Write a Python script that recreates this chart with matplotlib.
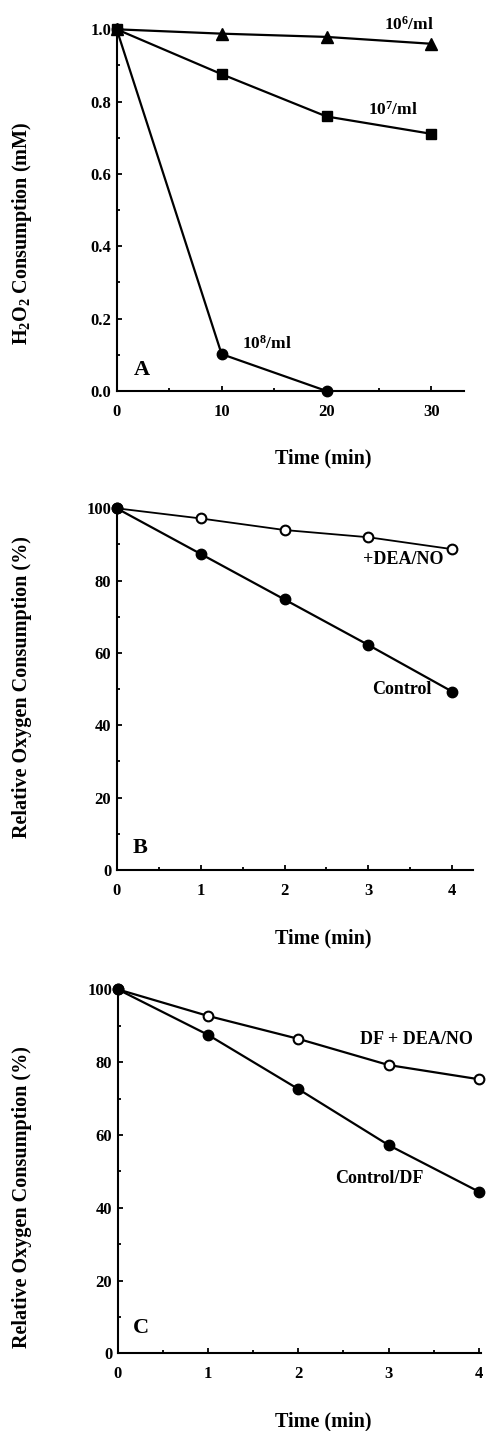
import matplotlib
matplotlib.use('Agg')
import matplotlib.pyplot as plt
from matplotlib.ticker import MultipleLocator, FormatStrFormatter

plt.rcParams['font.family'] = ['Liberation Serif', 'DejaVu Serif']
plt.rcParams['font.weight'] = 'bold'
plt.rcParams['mathtext.fontset'] = 'custom'
plt.rcParams['mathtext.rm'] = 'Liberation Serif:bold'
plt.rcParams['mathtext.it'] = 'Liberation Serif:bold'
plt.rcParams['mathtext.bf'] = 'Liberation Serif:bold'

# ---- data ----
time_a = [0, 10, 20, 30]
a_1e6 = [1.0, 0.988, 0.979, 0.960]
a_1e7 = [1.0, 0.876, 0.759, 0.711]
time_a8 = [0, 10, 20]
a_1e8 = [1.0, 0.102, 0.0]

time_bc = [0, 1, 2, 3, 4]
b_deano = [100, 97.2, 94.0, 92.0, 88.7]
b_control = [100, 87.4, 74.8, 62.2, 49.3]
c_df_deano = [100, 92.7, 86.4, 79.2, 75.3]
c_control_df = [100, 87.5, 72.6, 57.2, 44.4]

W, H = 486, 1431
fig = plt.figure(figsize=(W / 100, H / 100), dpi=100)


def add_ax(left, right, bottom, top):
    return fig.add_axes([left / W, 1 - bottom / H, (right - left) / W, (bottom - top) / H])


def style(ax, xmaj, xmin, ymaj, ymin, yfmt):
    for s in ['top', 'right']:
        ax.spines[s].set_visible(False)
    for s in ['left', 'bottom']:
        ax.spines[s].set_linewidth(1.5)
    ax.xaxis.set_major_locator(MultipleLocator(xmaj))
    ax.xaxis.set_minor_locator(MultipleLocator(xmin))
    ax.yaxis.set_major_locator(MultipleLocator(ymaj))
    ax.yaxis.set_minor_locator(MultipleLocator(ymin))
    ax.yaxis.set_major_formatter(FormatStrFormatter(yfmt))
    ax.tick_params(which='both', direction='in', width=1.3)
    ax.tick_params(which='major', length=3.5)
    ax.tick_params(which='minor', length=2.5)
    ax.tick_params(axis='x', which='major', pad=9, labelsize=12)
    ax.tick_params(axis='y', which='major', pad=4, labelsize=12)
    for lab in ax.get_xticklabels() + ax.get_yticklabels():
        lab.set_fontweight('bold')


lw = 1.6
# ---- Panel A ----
axA = add_ax(116.7, 464, 391, 25.7)
axA.plot(time_a, a_1e6, '-^', color='black', lw=lw, ms=8, clip_on=False, zorder=5)
axA.plot(time_a, a_1e7, '-s', color='black', lw=lw, ms=7.5, clip_on=False, zorder=5)
axA.plot(time_a8, a_1e8, '-o', color='black', lw=lw, ms=7.5, clip_on=False, zorder=5)
axA.set_xlim(0, 33.1)
axA.set_ylim(0, 1.01)
style(axA, 10, 5, 0.2, 0.1, '%.1f')
axA.text(27.9, 1.012, '10$^{6}$/ml', ha='center', va='center', fontsize=12.5, fontweight='bold')
axA.text(26.3, 0.777, '10$^{7}$/ml', ha='center', va='center', fontsize=12.5, fontweight='bold')
axA.text(14.3, 0.132, '10$^{8}$/ml', ha='center', va='center', fontsize=12.5, fontweight='bold')
axA.text(2.4, 0.058, 'A', ha='center', va='center', fontsize=16, fontweight='bold')

# ---- Panel B ----
axB = add_ax(116.7, 473.3, 870, 504.7)
axB.plot(time_bc, b_deano, '-o', color='black', mfc='white', mew=1.5, lw=1.3, ms=7, clip_on=False, zorder=5)
axB.plot(time_bc, b_control, '-o', color='black', lw=lw, ms=7.5, clip_on=False, zorder=5)
axB.set_xlim(0, 4.25)
axB.set_ylim(0, 101)
style(axB, 1, 0.5, 20, 10, '%d')
axB.text(3.42, 85.9, '+DEA/NO', ha='center', va='center', fontsize=13, fontweight='bold')
axB.text(3.40, 50.0, 'Control', ha='center', va='center', fontsize=13, fontweight='bold')
axB.text(0.28, 6.0, 'B', ha='center', va='center', fontsize=16, fontweight='bold')

# ---- Panel C ----
axC = add_ax(117.7, 480.7, 1353.3, 985.7)
axC.plot(time_bc, c_df_deano, '-o', color='black', mfc='white', mew=1.5, lw=lw, ms=7, clip_on=False, zorder=5)
axC.plot(time_bc, c_control_df, '-o', color='black', lw=lw, ms=7.5, clip_on=False, zorder=5)
axC.set_xlim(0, 4.02)
axC.set_ylim(0, 101)
style(axC, 1, 0.5, 20, 10, '%d')
axC.text(3.31, 86.1, 'DF + DEA/NO', ha='center', va='center', fontsize=13, fontweight='bold')
axC.text(2.90, 48.1, 'Control/DF', ha='center', va='center', fontsize=13, fontweight='bold')
axC.text(0.26, 6.9, 'C', ha='center', va='center', fontsize=16, fontweight='bold')

# ---- axis labels (figure pixel positions) ----
def ftext(x, y, s, **kw):
    fig.text(x / W, 1 - y / H, s, ha='center', va='center', fontsize=14.5, fontweight='bold', **kw)

ftext(22, 233, 'H$_{2}$O$_{2}$ Consumption (mM)', rotation=90)
ftext(323, 458, 'Time (min)')
ftext(22, 686.7, 'Relative Oxygen Consumption (%)', rotation=90)
ftext(323, 938, 'Time (min)')
ftext(22, 1196.7, 'Relative Oxygen Consumption (%)', rotation=90)
ftext(323, 1421.7, 'Time (min)')

fig.savefig('out.png', dpi=100)
